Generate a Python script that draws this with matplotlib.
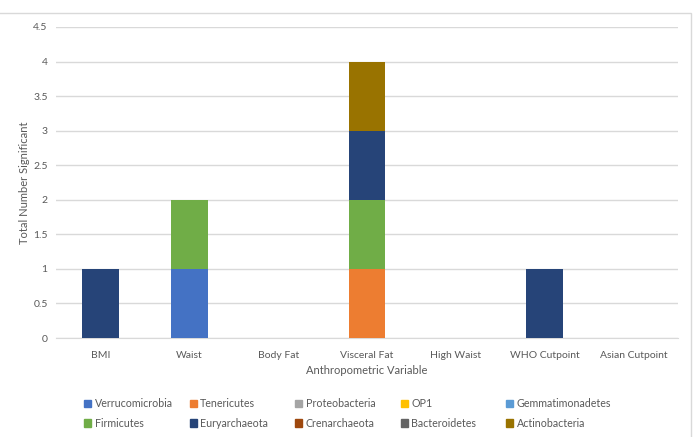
import matplotlib.pyplot as plt
import matplotlib.patches as mpatches
import numpy as np

plt.rcParams['font.family'] = ['Lato', 'DejaVu Sans']

categories = ['BMI', 'Waist', 'Body Fat', 'Visceral Fat', 'High Waist', 'WHO Cutpoint', 'Asian Cutpoint']
phyla = ['Verrucomicrobia', 'Tenericutes', 'Proteobacteria', 'OP1', 'Gemmatimonadetes',
         'Firmicutes', 'Euryarchaeota', 'Crenarchaeota', 'Bacteroidetes', 'Actinobacteria']
colors = ['#4472C4', '#ED7D31', '#A5A5A5', '#FFC000', '#5B9BD5',
          '#70AD47', '#264478', '#9E480E', '#636363', '#997300']

counts = {
    'Verrucomicrobia':  [0, 1, 0, 0, 0, 0, 0],
    'Tenericutes':      [0, 0, 0, 1, 0, 0, 0],
    'Proteobacteria':   [0, 0, 0, 0, 0, 0, 0],
    'OP1':              [0, 0, 0, 0, 0, 0, 0],
    'Gemmatimonadetes': [0, 0, 0, 0, 0, 0, 0],
    'Firmicutes':       [0, 1, 0, 1, 0, 0, 0],
    'Euryarchaeota':    [1, 0, 0, 1, 0, 1, 0],
    'Crenarchaeota':    [0, 0, 0, 0, 0, 0, 0],
    'Bacteroidetes':    [0, 0, 0, 0, 0, 0, 0],
    'Actinobacteria':   [0, 0, 0, 1, 0, 0, 0],
}

txt = '#595959'
fig = plt.figure(figsize=(6.94, 4.37), dpi=100)
ax = fig.add_axes([56 / 694, 1 - 338 / 437, 622 / 694, 311 / 437])

x = np.arange(len(categories))
bottom = np.zeros(len(categories))
for name, col in zip(phyla, colors):
    vals = np.array(counts[name], dtype=float)
    ax.bar(x, vals, 0.41, bottom=bottom, color=col, label=name, zorder=3)
    bottom += vals

ax.set_xlim(-0.5, len(categories) - 0.5)
ax.set_ylim(0, 4.5)
ax.set_yticks(np.arange(0, 4.51, 0.5))
ax.set_yticklabels(['0', '0.5', '1', '1.5', '2', '2.5', '3', '3.5', '4', '4.5'])
ax.set_xticks(x)
ax.set_xticklabels(categories)
ax.grid(axis='y', color='#D9D9D9', linewidth=1, zorder=0)
for s in ['top', 'right', 'left']:
    ax.spines[s].set_visible(False)
ax.spines['bottom'].set_color('#D9D9D9')
ax.tick_params(length=0, labelsize=7.5, colors=txt, pad=6)
ax.tick_params(axis='x', pad=9)
ax.set_xlabel('Anthropometric Variable', fontsize=8, color=txt, labelpad=4)
ax.set_ylabel('Total Number Significant', fontsize=8, color=txt, labelpad=2)

# legend: Excel style, fixed-width columns, two rows
handles = [mpatches.Patch(color=c) for c in colors]
for i in range(5):
    fig.legend([handles[i], handles[i + 5]], [phyla[i], phyla[i + 5]],
               loc='center left', bbox_to_anchor=((84 + 105.5 * i) / 694, 1 - 413.5 / 437),
               frameon=False, fontsize=7.7, labelcolor=txt, handlelength=0.7,
               handleheight=0.7, handletextpad=0.3, labelspacing=0.75,
               borderpad=0, borderaxespad=0)

fig.add_artist(mpatches.Rectangle((-0.01, -0.01), 691 / 694 + 0.01, 1 - 13 / 437 + 0.01,
                                  transform=fig.transFigure, fill=False,
                                  edgecolor='#D9D9D9', linewidth=1))

fig.savefig('out.png', dpi=100)
